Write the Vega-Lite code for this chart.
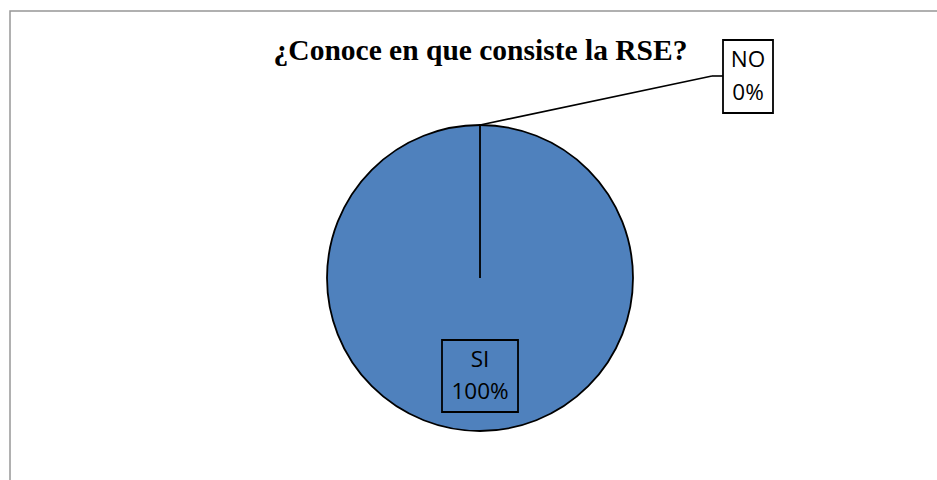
{
  "$schema": "https://vega.github.io/schema/vega-lite/v6.json",
  "width": 937,
  "height": 480,
  "padding": 0,
  "autosize": {"type": "none"},
  "background": "white",
  "config": {"view": {"stroke": null}},
  "datasets": {
    "slices": [
      {"cat": "SI", "value": 100, "label": "SI\n100%"},
      {"cat": "NO", "value": 0, "label": "NO\n0%"}
    ]
  },
  "layer": [
    {
      "data": {"values": [{}]},
      "mark": {"type": "rect", "fill": "white", "fillOpacity": 0, "stroke": "#979797", "strokeWidth": 1.5},
      "encoding": {
        "x": {"datum": -3.0719, "type": "quantitative", "scale": {"domain": [-3.1373, 2.9869], "nice": false, "zero": false}, "axis": null},
        "x2": {"datum": 3.5},
        "y": {"datum": 1.7451, "type": "quantitative", "scale": {"domain": [-1.3203, 1.817], "nice": false, "zero": false}, "axis": null},
        "y2": {"datum": -2}
      }
    },
    {
      "data": {"name": "slices"},
      "mark": {"type": "arc", "radius": 153, "fill": "#4F81BD", "stroke": "#000000", "strokeWidth": 1.8},
      "encoding": {
        "theta": {"field": "value", "type": "quantitative", "stack": true},
        "order": {"field": "value", "sort": "descending"},
        "x": {"datum": 0, "type": "quantitative"},
        "y": {"datum": 0, "type": "quantitative"}
      }
    },
    {
      "data": {"values": [{}]},
      "mark": {"type": "rule", "stroke": "#000000", "strokeWidth": 1.6},
      "encoding": {
        "x": {"datum": 0, "type": "quantitative"},
        "y": {"datum": 1, "type": "quantitative"},
        "x2": {"datum": 1.5163},
        "y2": {"datum": 1.3203}
      }
    },
    {
      "data": {"values": [{}]},
      "mark": {"type": "rule", "stroke": "#000000", "strokeWidth": 1.6},
      "encoding": {
        "x": {"datum": 1.5163, "type": "quantitative"},
        "y": {"datum": 1.3203, "type": "quantitative"},
        "x2": {"datum": 1.5882},
        "y2": {"datum": 1.3203}
      }
    },
    {
      "data": {"values": [{}]},
      "mark": {"type": "rect", "fill": "white", "stroke": "#000000", "strokeWidth": 1.8},
      "encoding": {
        "x": {"datum": 1.5882, "type": "quantitative"},
        "x2": {"datum": 1.915},
        "y": {"datum": 1.5556, "type": "quantitative"},
        "y2": {"datum": 1.0784}
      }
    },
    {
      "data": {"name": "slices"},
      "transform": [{"filter": "datum.cat === 'NO'"}],
      "mark": {"type": "text", "font": "Open Sans", "fontSize": 22.5, "lineHeight": 33, "align": "center", "baseline": "middle", "lineBreak": "\n", "color": "#000000"},
      "encoding": {
        "text": {"field": "label"},
        "x": {"datum": 1.7516, "type": "quantitative"},
        "y": {"datum": 1.4216, "type": "quantitative"}
      }
    },
    {
      "data": {"values": [{}]},
      "mark": {"type": "rect", "fill": "white", "fillOpacity": 0, "stroke": "#000000", "strokeWidth": 1.8},
      "encoding": {
        "x": {"datum": -0.2484, "type": "quantitative"},
        "x2": {"datum": 0.2484},
        "y": {"datum": -0.4052, "type": "quantitative"},
        "y2": {"datum": -0.8758}
      }
    },
    {
      "data": {"name": "slices"},
      "transform": [{"filter": "datum.cat === 'SI'"}],
      "mark": {"type": "text", "font": "Open Sans", "fontSize": 22.5, "lineHeight": 32, "align": "center", "baseline": "middle", "lineBreak": "\n", "color": "#000000"},
      "encoding": {
        "text": {"field": "label"},
        "x": {"datum": 0, "type": "quantitative"},
        "y": {"datum": -0.5392, "type": "quantitative"}
      }
    },
    {
      "data": {"values": [{}]},
      "mark": {"type": "text", "font": "Liberation Serif", "fontWeight": "bold", "fontSize": 29.5, "align": "center", "baseline": "alphabetic", "color": "#000000"},
      "encoding": {
        "text": {"value": "¿Conoce en que consiste la RSE?"},
        "x": {"datum": 0.0033, "type": "quantitative"},
        "y": {"datum": 1.4248, "type": "quantitative"}
      }
    }
  ]
}
